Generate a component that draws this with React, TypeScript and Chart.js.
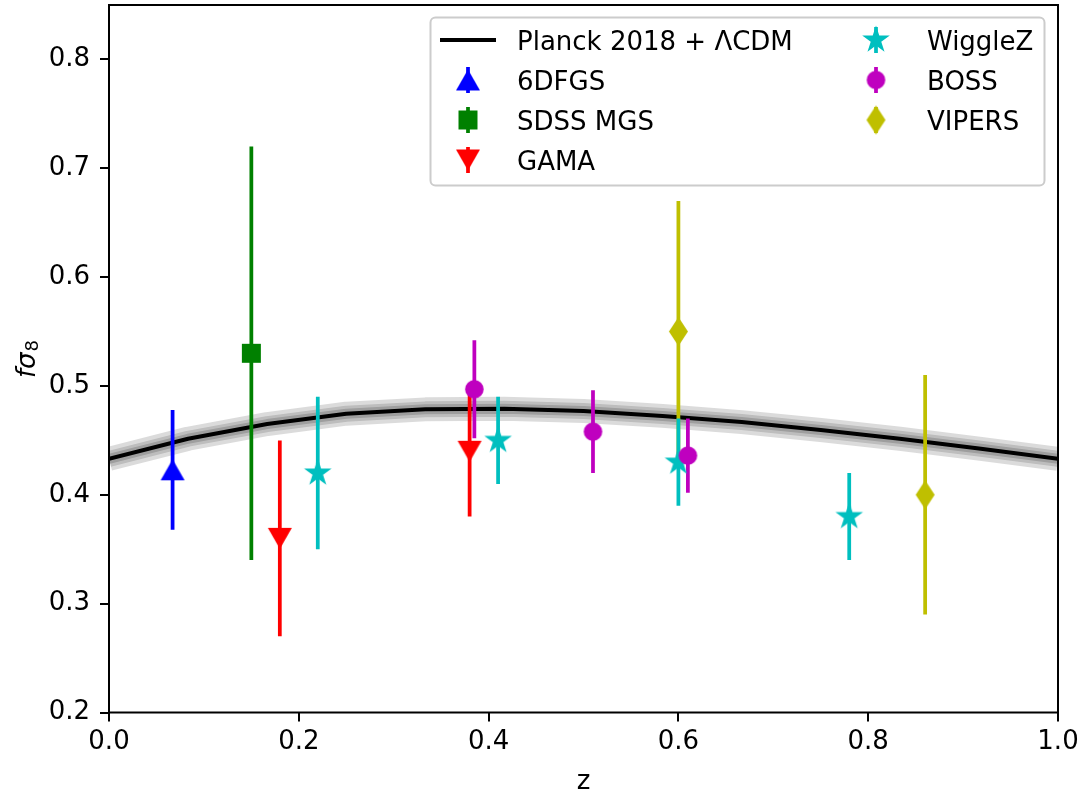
import React, { useEffect, useRef } from 'react';
import { Chart, registerables } from 'chart.js';

Chart.register(...registerables);

const FONT = "'DejaVu Sans', 'Liberation Sans', sans-serif";
const FS = 26;

// Planck 2018 + LCDM prediction
const planckZ = [0, 0.0833, 0.1667, 0.25, 0.3333, 0.4167, 0.5, 0.5833, 0.6667, 0.75, 0.8333, 0.9167, 1.0];
const planckFs8 = [0.433, 0.4515, 0.465, 0.4745, 0.4785, 0.479, 0.477, 0.4725, 0.4668, 0.4595, 0.4515, 0.4425, 0.433];

// Survey measurements
const sixdfZ = [0.067];
const sixdfFs8 = [0.423];
const sixdfErr = [0.055];

const sdssZ = [0.15];
const sdssFs8 = [0.53];
const sdssErr = [0.19];

const gamaZ = [0.18, 0.38];
const gamaFs8 = [0.36, 0.44];
const gamaErr = [0.09, 0.06];

const wigglezZ = [0.22, 0.41, 0.6, 0.78];
const wigglezFs8 = [0.42, 0.45, 0.43, 0.38];
const wigglezErr = [0.07, 0.04, 0.04, 0.04];

const bossZ = [0.385, 0.51, 0.61];
const bossFs8 = [0.497, 0.458, 0.436];
const bossErr = [0.045, 0.038, 0.034];

const vipersZ = [0.6, 0.86];
const vipersFs8 = [0.55, 0.4];
const vipersErr = [0.12, 0.11];

const xTicks = [0, 0.2, 0.4, 0.6, 0.8, 1.0];
const yTicks = [0.2, 0.3, 0.4, 0.5, 0.6, 0.7, 0.8];

const planckLabel = 'Planck 2018 + ΛCDM';

type Kind = 'tri-up' | 'tri-down' | 'square' | 'circle' | 'star' | 'thin-diamond';

function makeMarker(kind: Kind, color: string): HTMLCanvasElement {
  const c = document.createElement('canvas');
  let w = 26, h = 26;
  if (kind === 'tri-up' || kind === 'tri-down') { w = 26; h = 23; }
  if (kind === 'square') { w = 21; h = 21; }
  if (kind === 'circle') { w = 21; h = 21; }
  if (kind === 'star') { w = 32; h = 32; }
  if (kind === 'thin-diamond') { w = 21; h = 31; }
  c.width = w;
  c.height = h;
  const g = c.getContext('2d')!;
  g.fillStyle = color;
  const cx = w / 2, cy = h / 2;
  g.beginPath();
  if (kind === 'tri-up') {
    g.moveTo(cx, cy - 10.5); g.lineTo(cx + 12, cy + 10.5); g.lineTo(cx - 12, cy + 10.5);
  } else if (kind === 'tri-down') {
    g.moveTo(cx, cy + 10.5); g.lineTo(cx + 12, cy - 10.5); g.lineTo(cx - 12, cy - 10.5);
  } else if (kind === 'square') {
    g.rect(cx - 9.5, cy - 9.5, 19, 19);
  } else if (kind === 'circle') {
    g.arc(cx, cy, 9.3, 0, Math.PI * 2);
  } else if (kind === 'star') {
    const R = 14.5, r = R * 0.381966;
    for (let k = 0; k < 10; k++) {
      const rad = k % 2 === 0 ? R : r;
      const a = -Math.PI / 2 + (k * Math.PI) / 5;
      const px = cx + rad * Math.cos(a), py = cy + rad * Math.sin(a);
      if (k === 0) g.moveTo(px, py); else g.lineTo(px, py);
    }
  } else if (kind === 'thin-diamond') {
    g.moveTo(cx, cy - 14.5); g.lineTo(cx + 9.5, cy); g.lineTo(cx, cy + 14.5); g.lineTo(cx - 9.5, cy);
  }
  g.closePath();
  g.fill();
  return c;
}

interface Survey {
  label: string;
  z: number[];
  v: number[];
  e: number[];
  color: string;
  kind: Kind;
  order: number;
}

const surveys: Survey[] = [
  { label: '6DFGS', z: sixdfZ, v: sixdfFs8, e: sixdfErr, color: '#0000ff', kind: 'tri-up', order: 6 },
  { label: 'SDSS MGS', z: sdssZ, v: sdssFs8, e: sdssErr, color: '#008000', kind: 'square', order: 5 },
  { label: 'GAMA', z: gamaZ, v: gamaFs8, e: gamaErr, color: '#ff0000', kind: 'tri-down', order: 1 },
  { label: 'WiggleZ', z: wigglezZ, v: wigglezFs8, e: wigglezErr, color: '#00bfbf', kind: 'star', order: 3 },
  { label: 'BOSS', z: bossZ, v: bossFs8, e: bossErr, color: '#bf00bf', kind: 'circle', order: 2 },
  { label: 'VIPERS', z: vipersZ, v: vipersFs8, e: vipersErr, color: '#bfbf00', kind: 'thin-diamond', order: 4 },
];

// order in which the error bars are painted (first = bottom)
const errorBarOrder = ['6DFGS', 'SDSS MGS', 'GAMA', 'VIPERS', 'WiggleZ', 'BOSS'];

const ERR_W = 3.75;

export default function App() {
  const ref = useRef<HTMLCanvasElement | null>(null);

  useEffect(() => {
    if (!ref.current) return;
    Chart.defaults.font.family = FONT;
    Chart.defaults.font.size = FS;
    Chart.defaults.color = '#000';

    const markers: Record<string, HTMLCanvasElement> = {};
    surveys.forEach((s) => { markers[s.label] = makeMarker(s.kind, s.color); });

    const curveData = planckZ.map((z, i) => ({ x: z, y: planckFs8[i] }));
    const bandLayers = [
      { w: 24, c: 'rgba(0,0,0,0.14)', order: 23 },
      { w: 16, c: 'rgba(0,0,0,0.14)', order: 22 },
      { w: 10, c: 'rgba(0,0,0,0.17)', order: 21 },
    ];

    const datasets: any[] = bandLayers.map((b) => ({
      type: 'line',
      label: 'band',
      data: curveData,
      borderColor: b.c,
      borderWidth: b.w,
      pointRadius: 0,
      tension: 0,
      fill: false,
      order: b.order,
      borderJoinStyle: 'round',
    }));
    datasets.push({
      type: 'line',
      label: planckLabel,
      data: curveData,
      borderColor: '#000',
      borderWidth: 4,
      pointRadius: 0,
      tension: 0,
      fill: false,
      order: 20,
      borderJoinStyle: 'round',
    });
    const curveIndex = datasets.length - 1;

    surveys.forEach((s) => {
      datasets.push({
        type: 'scatter',
        label: s.label,
        data: s.z.map((z, i) => ({ x: z, y: s.v[i] })),
        pointStyle: markers[s.label],
        pointRadius: 10,
        pointHoverRadius: 10,
        order: s.order,
        showLine: false,
      });
    });

    const errorBarPlugin = {
      id: 'errorBars',
      afterDatasetDraw(chart: any, args: any) {
        if (args.index !== curveIndex) return;
        const { ctx, chartArea } = chart;
        const xs = chart.scales.x, ys = chart.scales.y;
        ctx.save();
        ctx.beginPath();
        ctx.rect(chartArea.left, chartArea.top, chartArea.right - chartArea.left, chartArea.bottom - chartArea.top);
        ctx.clip();
        ctx.lineWidth = ERR_W;
        ctx.lineCap = 'butt';
        errorBarOrder.forEach((name) => {
          const s = surveys.find((q) => q.label === name)!;
          ctx.strokeStyle = s.color;
          s.z.forEach((z, i) => {
            const px = xs.getPixelForValue(z);
            const y1 = ys.getPixelForValue(s.v[i] - s.e[i]);
            const y2 = ys.getPixelForValue(s.v[i] + s.e[i]);
            ctx.beginPath();
            ctx.moveTo(px, y1);
            ctx.lineTo(px, y2);
            ctx.stroke();
          });
        });
        ctx.restore();
      },
    };

    const framePlugin = {
      id: 'frame',
      afterDatasetsDraw(chart: any) {
        const { ctx, chartArea } = chart;
        ctx.save();
        ctx.strokeStyle = '#000';
        ctx.lineWidth = 2;
        ctx.strokeRect(chartArea.left, chartArea.top, chartArea.right - chartArea.left, chartArea.bottom - chartArea.top);
        ctx.restore();
      },
    };

    const yTitlePlugin = {
      id: 'yTitle',
      afterDraw(chart: any) {
        const ctx = chart.ctx;
        ctx.save();
        ctx.translate(35, 359);
        ctx.rotate(-Math.PI / 2);
        ctx.fillStyle = '#000';
        ctx.textBaseline = 'alphabetic';
        ctx.textAlign = 'left';
        const mainFont = `italic ${FS}px ${FONT}`;
        const subFont = `18px ${FONT}`;
        ctx.font = mainFont;
        const w1 = ctx.measureText('fσ').width;
        ctx.font = subFont;
        const w2 = ctx.measureText('8').width;
        const x0 = -(w1 + w2 + 1) / 2;
        ctx.font = mainFont;
        ctx.fillText('fσ', x0, 0);
        ctx.font = subFont;
        ctx.fillText('8', x0 + w1 + 1, 3);
        ctx.restore();
      },
    };

    const legendPlugin = {
      id: 'customLegend',
      afterDraw(chart: any) {
        const ctx = chart.ctx;
        ctx.save();
        const bx = 430.5, by = 17.5, bw = 614, bh = 168, r = 5;
        ctx.beginPath();
        ctx.moveTo(bx + r, by);
        ctx.lineTo(bx + bw - r, by);
        ctx.arcTo(bx + bw, by, bx + bw, by + r, r);
        ctx.lineTo(bx + bw, by + bh - r);
        ctx.arcTo(bx + bw, by + bh, bx + bw - r, by + bh, r);
        ctx.lineTo(bx + r, by + bh);
        ctx.arcTo(bx, by + bh, bx, by + bh - r, r);
        ctx.lineTo(bx, by + r);
        ctx.arcTo(bx, by, bx + r, by, r);
        ctx.closePath();
        ctx.fillStyle = 'rgba(255,255,255,0.8)';
        ctx.fill();
        ctx.strokeStyle = '#cccccc';
        ctx.lineWidth = 2;
        ctx.stroke();

        const rows = [40, 80, 120, 160];
        const cols = [{ mx: 468, tx: 517 }, { mx: 876, tx: 927 }];
        const items: { label: string; col: number; row: number }[] = [
          { label: planckLabel, col: 0, row: 0 },
          { label: '6DFGS', col: 0, row: 1 },
          { label: 'SDSS MGS', col: 0, row: 2 },
          { label: 'GAMA', col: 0, row: 3 },
          { label: 'WiggleZ', col: 1, row: 0 },
          { label: 'BOSS', col: 1, row: 1 },
          { label: 'VIPERS', col: 1, row: 2 },
        ];
        ctx.font = `${FS}px ${FONT}`;
        ctx.textBaseline = 'alphabetic';
        ctx.textAlign = 'left';
        items.forEach((it) => {
          const cy = rows[it.row];
          const col = cols[it.col];
          const s = surveys.find((q) => q.label === it.label);
          if (!s) {
            ctx.strokeStyle = '#000';
            ctx.lineWidth = 4;
            ctx.beginPath();
            ctx.moveTo(440, cy);
            ctx.lineTo(496, cy);
            ctx.stroke();
          } else {
            ctx.strokeStyle = s.color;
            ctx.lineWidth = ERR_W;
            ctx.beginPath();
            ctx.moveTo(col.mx, cy - 13);
            ctx.lineTo(col.mx, cy + 13);
            ctx.stroke();
            const m = markers[s.label];
            ctx.drawImage(m, col.mx - m.width / 2, cy - m.height / 2);
          }
          ctx.fillStyle = '#000';
          ctx.fillText(it.label, col.tx, cy + 9.5);
        });
        ctx.restore();
      },
    };

    const chart = new Chart(ref.current, {
      type: 'scatter',
      data: { datasets },
      plugins: [errorBarPlugin, framePlugin, yTitlePlugin, legendPlugin],
      options: {
        responsive: false,
        maintainAspectRatio: false,
        devicePixelRatio: 1,
        animation: false,
        events: [],
        layout: { autoPadding: false, padding: { left: 0, right: 25, top: 5, bottom: 0 } },
        plugins: {
          legend: { display: false },
          tooltip: { enabled: false },
        },
        scales: {
          x: {
            type: 'linear',
            min: 0,
            max: 1,
            afterBuildTicks: (scale: any) => { scale.ticks = xTicks.map((v) => ({ value: v })); },
            afterFit: (scale: any) => {
              scale.height = 82.5;
              scale.paddingLeft = 0;
              scale.paddingRight = 0;
            },
            ticks: {
              color: '#000',
              font: { size: FS, family: FONT },
              padding: 5,
              maxRotation: 0,
              autoSkip: false,
              callback: (v: any) => Number(v).toFixed(1),
            },
            grid: { display: true, drawOnChartArea: false, drawTicks: true, tickLength: 9, color: '#000', lineWidth: 2 },
            border: { display: false },
            title: {
              display: true,
              text: 'z',
              color: '#000',
              font: { size: FS, family: FONT, lineHeight: 1 },
              padding: { top: 0, bottom: 0 },
            },
          },
          y: {
            type: 'linear',
            min: 0.2,
            max: 0.85,
            afterBuildTicks: (scale: any) => { scale.ticks = yTicks.map((v) => ({ value: v })); },
            afterFit: (scale: any) => {
              scale.width = 109;
              scale.paddingTop = 0;
              scale.paddingBottom = 0;
            },
            ticks: {
              color: '#000',
              font: { size: FS, family: FONT },
              padding: 10,
              autoSkip: false,
              callback: (v: any) => Number(v).toFixed(1),
            },
            grid: { display: true, drawOnChartArea: false, drawTicks: true, tickLength: 9, color: '#000', lineWidth: 2 },
            border: { display: false },
          },
        },
      } as any,
    });

    return () => chart.destroy();
  }, []);

  return (
    <div style={{ position: 'absolute', left: 0, top: 0, width: 1083, height: 795, background: '#fff' }}>
      <canvas ref={ref} width={1083} height={795} style={{ display: 'block', width: 1083, height: 795 }} />
    </div>
  );
}
